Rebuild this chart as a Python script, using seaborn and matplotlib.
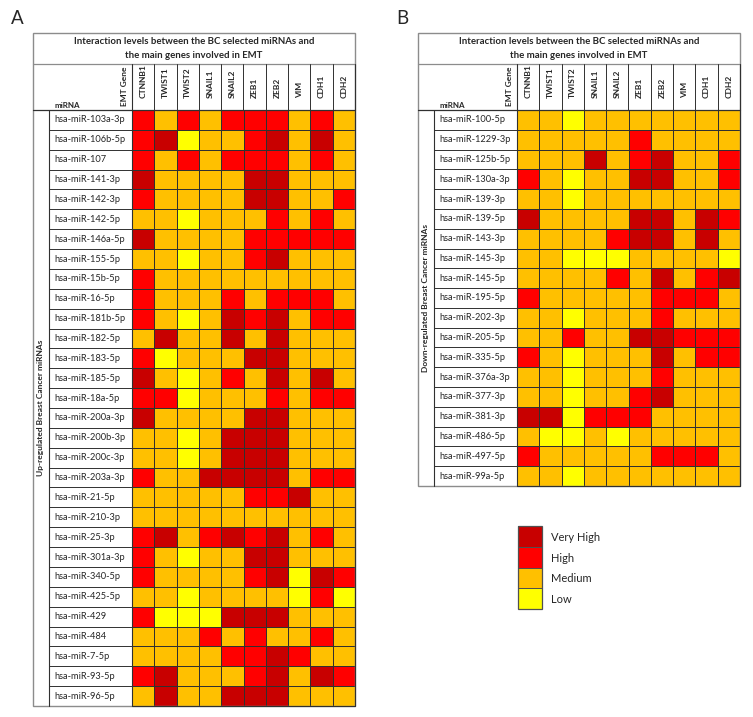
import numpy as np
import pandas as pd
import matplotlib
matplotlib.use("Agg")
import matplotlib.pyplot as plt
from matplotlib.colors import ListedColormap
import seaborn as sns

sns.set_style("white")
plt.rcParams['font.family'] = ['Lato', 'DejaVu Sans']

genes = ['CTNNB1', 'TWIST1', 'TWIST2', 'SNAIL1', 'SNAIL2', 'ZEB1', 'ZEB2', 'VIM', 'CDH1', 'CDH2']
niveles = ['Low', 'Medium', 'High', 'Very High']
colores = ['#FFFF00', '#FFC000', '#FF0000', '#C80000']

# 0 = Low, 1 = Medium, 2 = High, 3 = Very High
mirnas_up = ['hsa-miR-103a-3p', 'hsa-miR-106b-5p', 'hsa-miR-107', 'hsa-miR-141-3p', 'hsa-miR-142-3p',
             'hsa-miR-142-5p', 'hsa-miR-146a-5p', 'hsa-miR-155-5p', 'hsa-miR-15b-5p', 'hsa-miR-16-5p',
             'hsa-miR-181b-5p', 'hsa-miR-182-5p', 'hsa-miR-183-5p', 'hsa-miR-185-5p', 'hsa-miR-18a-5p',
             'hsa-miR-200a-3p', 'hsa-miR-200b-3p', 'hsa-miR-200c-3p', 'hsa-miR-203a-3p', 'hsa-miR-21-5p',
             'hsa-miR-210-3p', 'hsa-miR-25-3p', 'hsa-miR-301a-3p', 'hsa-miR-340-5p', 'hsa-miR-425-5p',
             'hsa-miR-429', 'hsa-miR-484', 'hsa-miR-7-5p', 'hsa-miR-93-5p', 'hsa-miR-96-5p']
niveles_up = [
    [2, 1, 2, 1, 2, 2, 2, 1, 2, 1],
    [2, 3, 0, 1, 1, 2, 3, 1, 3, 1],
    [2, 1, 2, 1, 2, 2, 2, 1, 2, 1],
    [3, 1, 1, 1, 1, 3, 3, 1, 1, 1],
    [2, 1, 1, 1, 1, 3, 3, 1, 1, 2],
    [1, 1, 0, 1, 1, 1, 2, 1, 2, 1],
    [3, 1, 1, 1, 1, 2, 2, 2, 2, 2],
    [1, 1, 0, 1, 1, 2, 3, 1, 1, 1],
    [2, 1, 1, 1, 1, 1, 1, 1, 1, 1],
    [2, 1, 1, 1, 2, 1, 2, 2, 2, 1],
    [2, 1, 0, 1, 3, 2, 3, 1, 2, 2],
    [1, 3, 1, 1, 3, 1, 3, 1, 1, 1],
    [2, 0, 1, 1, 1, 3, 3, 1, 1, 1],
    [3, 1, 0, 1, 2, 1, 3, 1, 3, 1],
    [2, 2, 0, 1, 1, 1, 2, 1, 2, 2],
    [3, 1, 1, 1, 1, 3, 3, 1, 1, 1],
    [1, 1, 0, 1, 3, 3, 3, 1, 1, 1],
    [1, 1, 0, 1, 3, 3, 3, 1, 1, 1],
    [2, 1, 1, 3, 3, 3, 3, 1, 2, 2],
    [1, 1, 1, 1, 1, 2, 2, 3, 1, 1],
    [1, 1, 1, 1, 1, 1, 1, 1, 1, 1],
    [2, 3, 1, 2, 3, 2, 3, 1, 2, 1],
    [2, 1, 0, 1, 1, 3, 3, 1, 1, 1],
    [2, 1, 1, 1, 1, 2, 3, 0, 3, 2],
    [1, 1, 0, 1, 1, 1, 1, 0, 2, 0],
    [2, 0, 0, 0, 3, 3, 3, 1, 1, 1],
    [1, 1, 1, 2, 1, 2, 1, 1, 2, 1],
    [1, 1, 1, 1, 2, 2, 3, 2, 1, 1],
    [2, 3, 1, 1, 1, 2, 3, 1, 3, 2],
    [1, 3, 1, 1, 3, 3, 3, 1, 1, 1],
]

mirnas_down = ['hsa-miR-100-5p', 'hsa-miR-1229-3p', 'hsa-miR-125b-5p', 'hsa-miR-130a-3p', 'hsa-miR-139-3p',
               'hsa-miR-139-5p', 'hsa-miR-143-3p', 'hsa-miR-145-3p', 'hsa-miR-145-5p', 'hsa-miR-195-5p',
               'hsa-miR-202-3p', 'hsa-miR-205-5p', 'hsa-miR-335-5p', 'hsa-miR-376a-3p', 'hsa-miR-377-3p',
               'hsa-miR-381-3p', 'hsa-miR-486-5p', 'hsa-miR-497-5p', 'hsa-miR-99a-5p']
niveles_down = [
    [1, 1, 0, 1, 1, 1, 1, 1, 1, 1],
    [1, 1, 1, 1, 1, 2, 1, 1, 1, 1],
    [1, 1, 1, 3, 1, 2, 3, 1, 1, 2],
    [2, 1, 0, 1, 1, 3, 3, 1, 1, 2],
    [1, 1, 0, 1, 1, 1, 1, 1, 1, 1],
    [3, 1, 1, 1, 1, 3, 3, 1, 3, 2],
    [1, 1, 1, 1, 2, 3, 3, 1, 3, 1],
    [1, 1, 0, 0, 0, 1, 1, 1, 1, 0],
    [1, 1, 1, 1, 2, 1, 3, 1, 2, 3],
    [2, 1, 1, 1, 1, 1, 2, 2, 2, 1],
    [1, 1, 0, 1, 1, 1, 2, 1, 1, 1],
    [1, 1, 2, 1, 1, 3, 3, 2, 2, 2],
    [2, 1, 0, 1, 1, 1, 3, 1, 2, 2],
    [1, 1, 0, 1, 1, 1, 2, 1, 1, 1],
    [1, 1, 0, 1, 1, 2, 3, 1, 1, 1],
    [3, 3, 0, 2, 2, 2, 1, 1, 1, 1],
    [1, 0, 0, 1, 0, 1, 1, 1, 1, 1],
    [2, 1, 1, 1, 1, 1, 2, 2, 2, 1],
    [1, 1, 0, 1, 1, 1, 1, 1, 1, 1],
]

titulo = 'Interaction levels between the BC selected miRNAs and\nthe main genes involved in EMT'

W, H = 753, 717
fig = plt.figure(figsize=(W / 100, H / 100), dpi=100)
cmap = ListedColormap(colores)
ANGOSTA = ['Liberation Sans Narrow', 'Lato', 'DejaVu Sans']

# capa para dibujar el marco de la tabla en pixeles
ov = fig.add_axes([0, 0, 1, 1], zorder=5)
ov.set_xlim(0, W)
ov.set_ylim(H, 0)
ov.axis('off')
ov.patch.set_alpha(0)

BORDE = '#8c8c8c'
GRILLA = '#303030'


def px_axes(x0, y0, x1, y1, **kw):
    return fig.add_axes([x0 / W, 1 - y1 / H, (x1 - x0) / W, (y1 - y0) / H], **kw)


def graficar_tabla(x0, y_top, x_right, y_bot, mirnas, valores, grupo, letra):
    y_title, y_head = y_top + 31, y_top + 77
    xl, xg = x0 + 16, x0 + 99
    ax = px_axes(xg, y_head, x_right, y_bot)
    df = pd.DataFrame(valores, index=mirnas, columns=genes)
    sns.heatmap(df, ax=ax, cmap=cmap, vmin=-0.5, vmax=3.5, cbar=False,
                linewidths=0.7, linecolor=GRILLA, xticklabels=True, yticklabels=True)
    ax.xaxis.tick_top()
    ax.tick_params(axis='x', length=0, pad=9, labelsize=6.0)
    ax.tick_params(axis='y', length=0, pad=(xg - xl - 5) * 0.72, labelsize=6.7)
    for t in ax.get_xticklabels():
        t.set_rotation(90)
        t.set_fontweight('bold')
        t.set_family(ANGOSTA)
        t.set_va('bottom')
    for t in ax.get_yticklabels():
        t.set_rotation(0)
        t.set_ha('left')

    nrows = len(mirnas)
    cw = (x_right - xg) / len(genes)
    rh = (y_bot - y_head) / nrows
    # marco exterior y divisiones
    ov.add_patch(plt.Rectangle((x0, y_top), x_right - x0, y_bot - y_top, fill=False, ec=BORDE, lw=1))
    ov.plot([x0, x_right], [y_title, y_title], color=BORDE, lw=0.9)
    ov.plot([x0, x_right], [y_head, y_head], color=GRILLA, lw=0.9)
    ov.plot([xl, xl], [y_head, y_bot], color=GRILLA, lw=0.8)
    ov.plot([xg, xg], [y_title, y_bot], color=GRILLA, lw=0.8)
    ov.plot([x_right, x_right], [y_title, y_bot], color=GRILLA, lw=0.8)
    ov.plot([xg, x_right], [y_bot, y_bot], color=GRILLA, lw=0.8)
    for i in range(1, len(genes)):
        ov.plot([xg + i * cw] * 2, [y_title, y_head], color=GRILLA, lw=0.7)
    for j in range(1, nrows):
        ov.plot([xl, xg], [y_head + j * rh] * 2, color=GRILLA, lw=0.7)

    ov.text((x0 + x_right) / 2, (y_top + y_title) / 2, titulo, ha='center', va='center',
            fontsize=6.9, fontweight='bold', linespacing=1.6)
    ov.text(xl + 6, y_head - 5, 'miRNA', ha='left', va='center', fontsize=5.8, fontweight='bold')
    ov.text(xg - 7, y_head - 4, 'EMT Gene', ha='center', va='bottom', rotation=90,
            fontsize=6.0, fontweight='bold', family=ANGOSTA)
    ov.text((x0 + xl) / 2, (y_head + y_bot) / 2, grupo, ha='center', va='center', rotation=90,
            fontsize=6.0, fontweight='bold')
    ov.text(x0 - 15.5, 18.5, letra, ha='center', va='center', fontsize=13.5)


graficar_tabla(33, 33, 355, 706, mirnas_up, niveles_up, 'Up-regulated Breast Cancer miRNAs', 'A')
graficar_tabla(418, 33, 740, 486, mirnas_down, niveles_down, 'Down-regulated Breast Cancer miRNAs', 'B')

# leyenda
axl = px_axes(518, 526, 542, 609)
ley = pd.DataFrame({'nivel': [3, 2, 1, 0]}, index=niveles[::-1])
sns.heatmap(ley, ax=axl, cmap=cmap, vmin=-0.5, vmax=3.5, cbar=False,
            linewidths=0.7, linecolor='#505050', xticklabels=False, yticklabels=True)
axl.yaxis.tick_right()
axl.tick_params(axis='y', length=0, pad=6.5, labelsize=8)
for t in axl.get_yticklabels():
    t.set_rotation(0)
    t.set_ha('left')
ov.add_patch(plt.Rectangle((518, 526), 24, 83, fill=False, ec='#505050', lw=0.9))

fig.savefig('out.png', dpi=100)
